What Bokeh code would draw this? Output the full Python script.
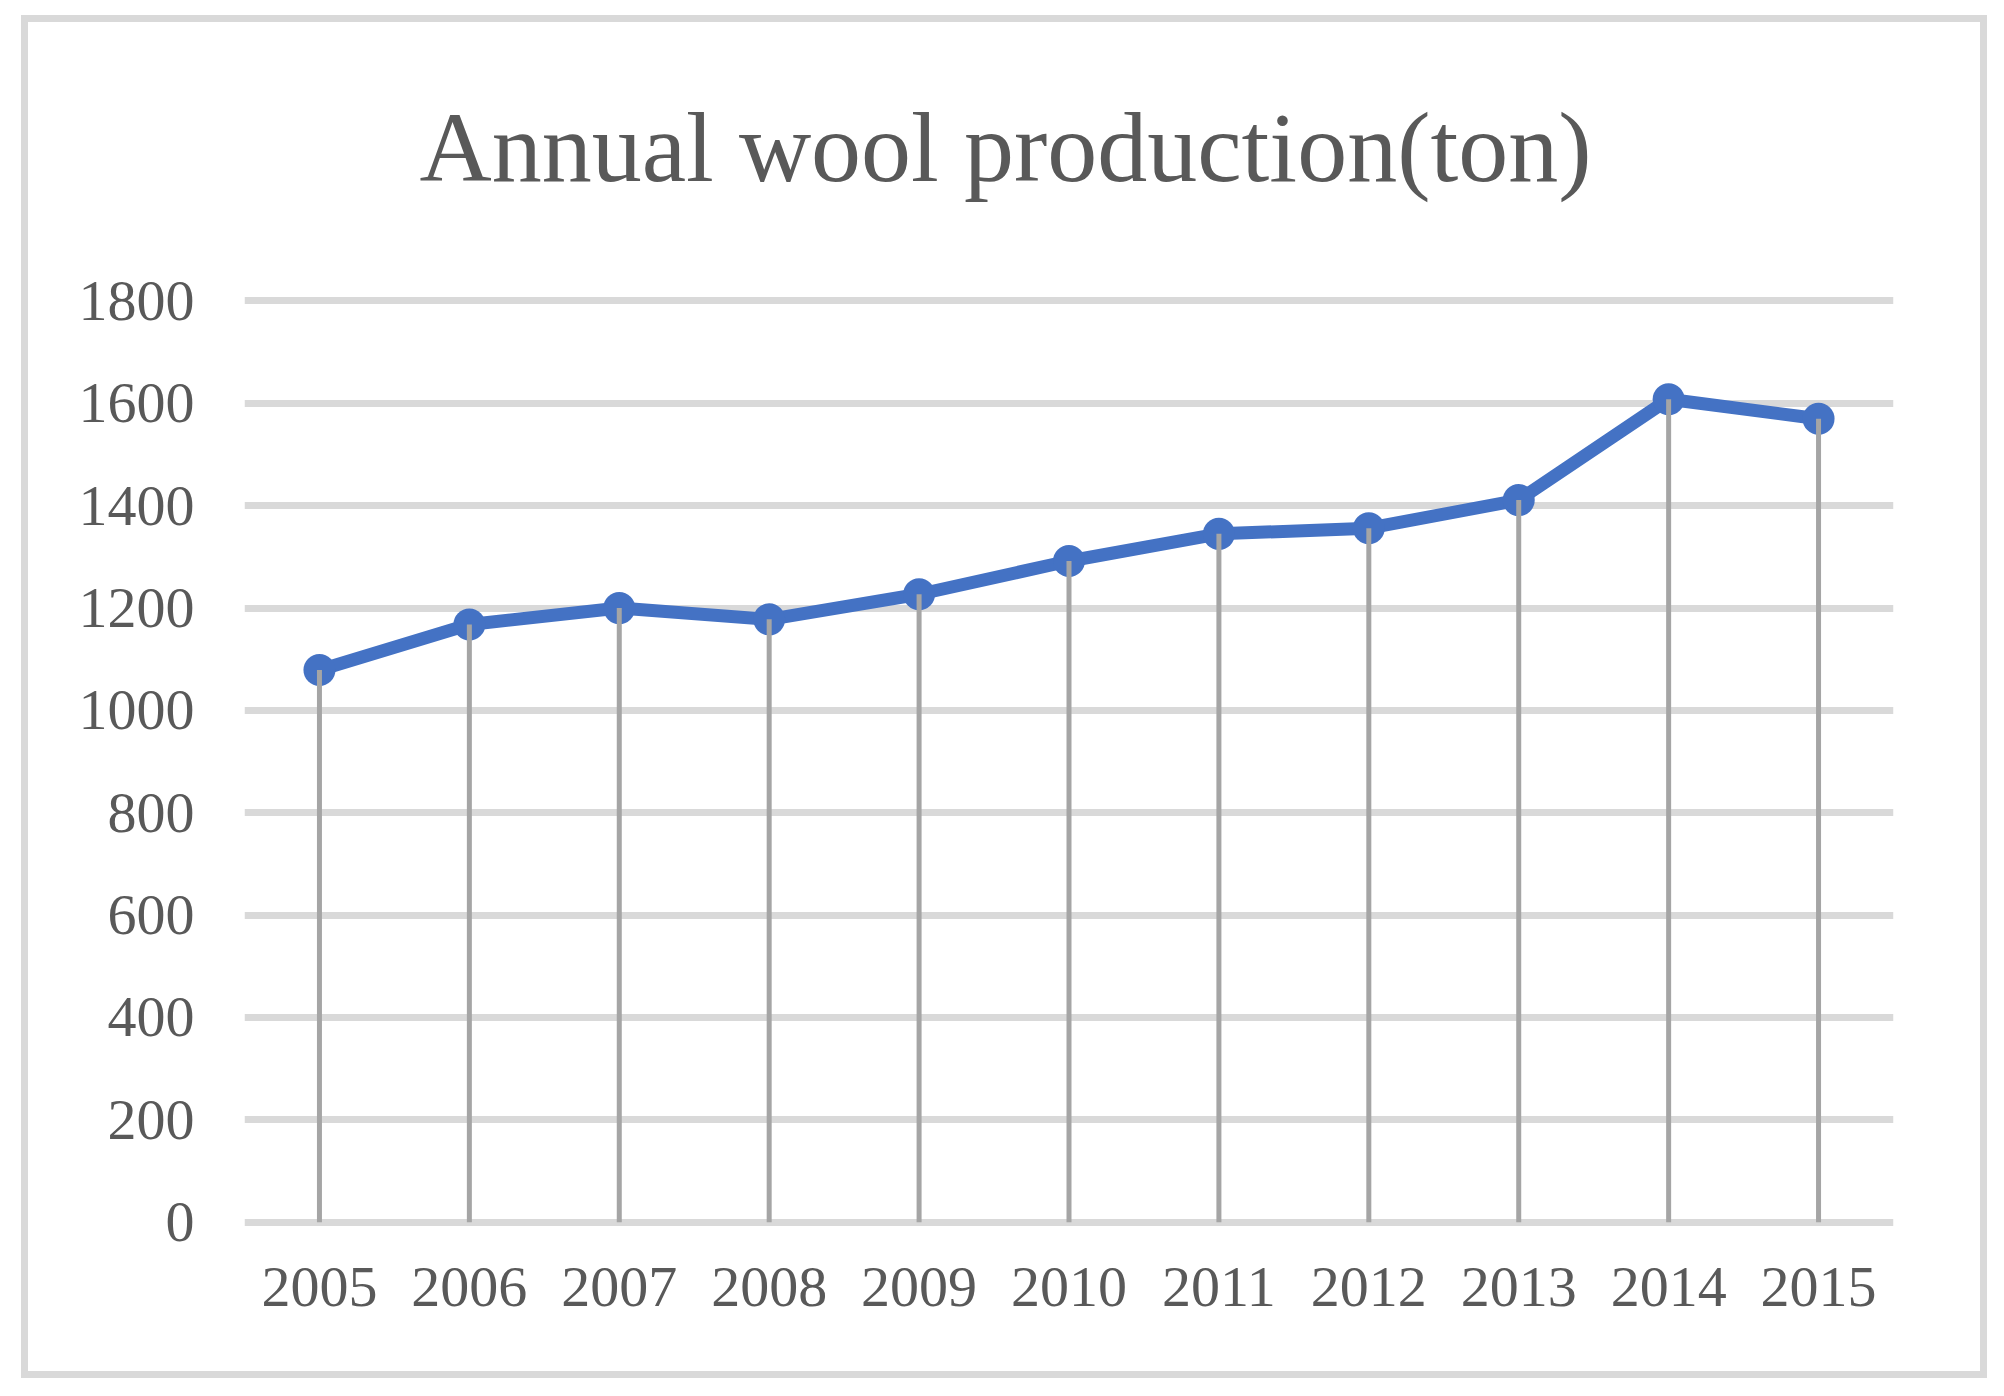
from bokeh.plotting import figure
from bokeh.models import FactorRange, Range1d, FixedTicker
from bokeh.embed import file_html
from bokeh.resources import INLINE

years = ["2005", "2006", "2007", "2008", "2009", "2010", "2011", "2012", "2013", "2014", "2015"]
production = [1079, 1168, 1200, 1178, 1227, 1292, 1345, 1356, 1411, 1608, 1570]
y_ticks = [0, 200, 400, 600, 800, 1000, 1200, 1400, 1600, 1800]
title_text = "Annual wool production(ton)"

FONT = "Liberation Serif"
TXT = "#595959"

Y0, Y1 = -20.1, 1820.5
p = figure(width=1988, height=1380, output_backend="svg", toolbar_location=None,
           x_range=FactorRange(*years, range_padding=0),
           y_range=Range1d(Y0, Y1),
           min_border_left=244, min_border_right=95,
           min_border_top=290, min_border_bottom=148)
p.outline_line_color = None
p.background_fill_color = "white"
p.border_fill_color = None

# outer light-grey chart border (drawn behind the transparent canvas border area)
strips = [(21, 15, 1966, 7), (21, 1371, 1966, 7), (21, 15, 7, 1363), (1980, 15, 7, 1363)]
p.styles = {
    "background-color": "white",
    "background-image": ", ".join(["linear-gradient(#d9d9d9, #d9d9d9)"] * len(strips)),
    "background-position": ", ".join(f"{x}px {y}px" for x, y, w, h in strips),
    "background-size": ", ".join(f"{w}px {h}px" for x, y, w, h in strips),
    "background-repeat": "no-repeat",
}

p.title.text = title_text
p.title.text_font = FONT
p.title.text_font_size = "100px"
p.title.text_font_style = "normal"
p.title.text_color = TXT
p.title.align = "left"
p.title.offset = 175
p.title.standoff = 175

p.ygrid.ticker = FixedTicker(ticks=y_ticks)
p.ygrid.grid_line_color = "#d9d9d9"
p.ygrid.grid_line_width = 7
p.xgrid.grid_line_color = None

p.yaxis.ticker = FixedTicker(ticks=y_ticks)
for ax in (p.xaxis, p.yaxis):
    ax.axis_line_color = None
    ax.major_tick_line_color = None
    ax.minor_tick_line_color = None
    ax.major_label_text_font = FONT
    ax.major_label_text_font_size = "58px"
    ax.major_label_text_color = TXT
p.yaxis.major_label_standoff = 44
p.xaxis.major_label_standoff = 29

p.line(years, production, line_color="#4472c4", line_width=13, line_join="round")
p.scatter(years, production, size=32, fill_color="#4472c4", line_color=None)
p.segment(x0=years, y0=[0] * len(years), x1=years, y1=production,
          line_color="#a5a5a5", line_width=5)

open("out.html", "w").write(file_html(p, INLINE))
